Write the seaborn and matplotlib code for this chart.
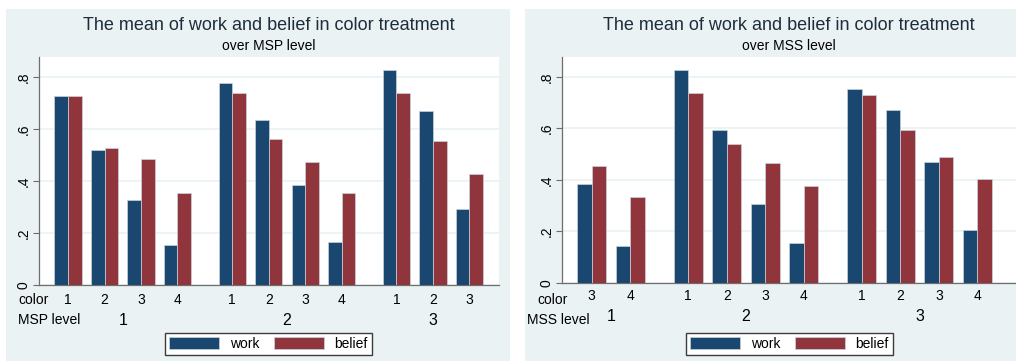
import matplotlib
matplotlib.use('Agg')
import matplotlib.pyplot as plt
from matplotlib.patches import Rectangle
import seaborn as sns
import pandas as pd

# data
msp_levels = ['1', '2', '3']
msp_colors = [[1, 2, 3, 4], [1, 2, 3, 4], [1, 2, 3]]
msp_work = [0.728, 0.521, 0.328, 0.155, 0.777, 0.633, 0.386, 0.167, 0.828, 0.669, 0.291]
msp_belief = [0.726, 0.527, 0.486, 0.353, 0.738, 0.563, 0.474, 0.355, 0.737, 0.553, 0.428]

mss_levels = ['1', '2', '3']
mss_colors = [[3, 4], [1, 2, 3, 4], [1, 2, 3, 4]]
mss_work = [0.385, 0.142, 0.827, 0.594, 0.306, 0.156, 0.752, 0.671, 0.470, 0.207]
mss_belief = [0.453, 0.333, 0.738, 0.539, 0.464, 0.376, 0.731, 0.592, 0.490, 0.403]

NAVY = '#1a476f'
MAROON = '#90353b'
BG = '#eaf2f3'
GRAY = '#6e6e6e'

plt.rcParams['font.family'] = ['Liberation Sans', 'DejaVu Sans']


def build_frame(levels, colors, work, belief):
    rows = []
    pos = 0.0
    i = 0
    centers = []
    for lev, cols in zip(levels, colors):
        start = pos
        for c in cols:
            rows.append({'level': lev, 'color': str(c), 'pos': pos, 'var': 'work', 'value': work[i]})
            rows.append({'level': lev, 'color': str(c), 'pos': pos, 'var': 'belief', 'value': belief[i]})
            pos += 1
            i += 1
        centers.append((start + pos - 1) / 2)
        pos += 0.5  # gap between over() groups
    return pd.DataFrame(rows), centers


def draw_panel(fig, rect, xlim, df, centers, title, sub, lvl_name, lab_x, rows_y, leg_x):
    ax = fig.add_axes(rect)
    ax.set_facecolor('white')
    sns.barplot(data=df, x='pos', y='value', hue='var', hue_order=['work', 'belief'],
                palette=[NAVY, MAROON], saturation=1, native_scale=True, width=0.75,
                errorbar=None, ax=ax, edgecolor='#c9d3dc', linewidth=0.5, zorder=3)
    ax.set_xlim(*xlim)
    ax.set_ylim(0, 0.877)
    ax.set_yticks([0, 0.2, 0.4, 0.6, 0.8])
    ax.set_yticklabels(['0', '.2', '.4', '.6', '.8'], rotation=90, va='center')
    ax.tick_params(axis='y', length=4, color=GRAY, labelsize=10, pad=2)
    ax.set_xticks([])
    ax.set_xlabel('')
    ax.set_ylabel('')
    ax.grid(axis='y', color=BG, linewidth=1.2, zorder=0)
    ax.set_axisbelow(True)
    for s in ['top', 'right']:
        ax.spines[s].set_visible(False)
    for s in ['left', 'bottom']:
        ax.spines[s].set_color(GRAY)
        ax.spines[s].set_linewidth(0.9)

    # category rows under the axis
    trans = ax.get_xaxis_transform()
    sub_df = df[df['var'] == 'work']
    for p, c in zip(sub_df['pos'], sub_df['color']):
        ax.text(p, rows_y[0], c, transform=trans, ha='center', va='center', fontsize=10, clip_on=False)
    for p, lev in zip(centers, df['level'].unique()):
        ax.text(p, rows_y[1], lev, transform=trans, ha='center', va='center', fontsize=11.5, clip_on=False)
    fig.text(lab_x[0], 1 - 300 / 361, 'color', ha='left', va='center', fontsize=10)
    fig.text(lab_x[1], 1 - 320 / 361, lvl_name, ha='left', va='center', fontsize=10)

    # titles
    cx = rect[0] + rect[2] / 2
    fig.text(cx, 1 - 26 / 361, title, ha='center', va='center', fontsize=13, color='#1e2d3b')
    fig.text(cx, 1 - 46 / 361, sub, ha='center', va='center', fontsize=10)

    handles, labels = ax.get_legend_handles_labels()
    ax.legend(handles, labels, loc='center', bbox_to_anchor=(leg_x, 1 - 344 / 361),
              bbox_transform=fig.transFigure, ncol=2, frameon=True, fancybox=False,
              edgecolor='#3c3c3c', framealpha=1, fontsize=10, handlelength=3.6,
              handleheight=1.0, columnspacing=1.0, handletextpad=0.8,
              borderpad=0.3, borderaxespad=0)
    ax.get_legend().get_frame().set_linewidth(1.0)
    return ax


fig = plt.figure(figsize=(10.16, 3.61), dpi=100)
fig.patch.set_facecolor('white')
fig.add_artist(Rectangle((6 / 1016, 0), 504 / 1016, 352 / 361, transform=fig.transFigure,
                         facecolor=BG, edgecolor='none', zorder=0))
fig.add_artist(Rectangle((525 / 1016, 0), 491 / 1016, 352 / 361, transform=fig.transFigure,
                         facecolor=BG, edgecolor='none', zorder=0))

df_msp, c_msp = build_frame(msp_levels, msp_colors, msp_work, msp_belief)
df_mss, c_mss = build_frame(mss_levels, mss_colors, mss_work, mss_belief)

draw_panel(fig, [39 / 1016, 76 / 361, 460 / 1016, 228 / 361], (-0.795, 11.81), df_msp, c_msp,
           'The mean of work and belief in color treatment', 'over MSP level', 'MSP level',
           (18 / 1016, 18 / 1016), (-0.066, -0.154), 268.5 / 1016)
draw_panel(fig, [562 / 1016, 78 / 361, 454 / 1016, 226 / 361], (-0.77, 11.0), df_mss, c_mss,
           'The mean of work and belief in color treatment', 'over MSS level', 'MSS level',
           (537 / 1016, 527 / 1016), (-0.058, -0.150), 789.5 / 1016)

fig.savefig('out.png', dpi=100)
